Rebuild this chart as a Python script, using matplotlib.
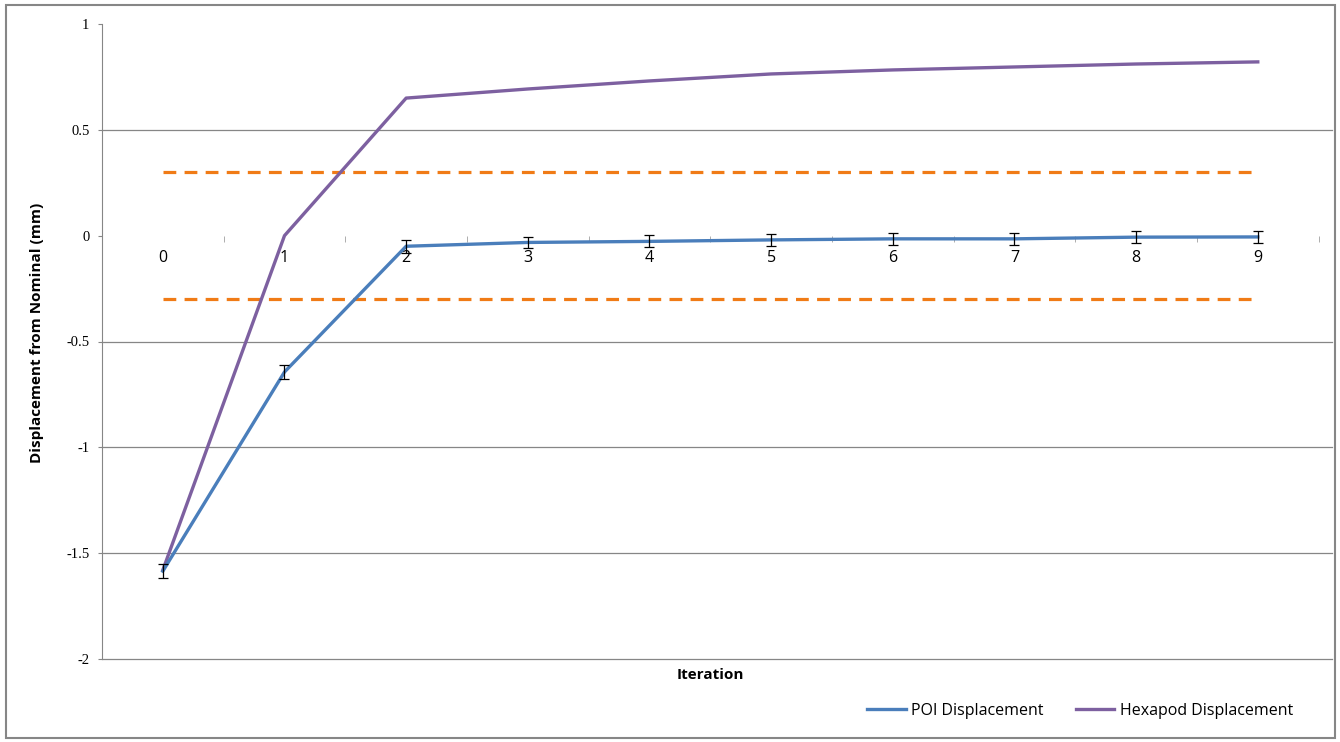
import matplotlib.pyplot as plt
from matplotlib.patches import Rectangle

# Data
iterations = [0, 1, 2, 3, 4, 5, 6, 7, 8, 9]
poi_disp = [-1.585, -0.644, -0.05, -0.032, -0.027, -0.02, -0.015, -0.015, -0.007, -0.006]
poi_err = [0.032, 0.035, 0.03, 0.028, 0.028, 0.028, 0.028, 0.028, 0.028, 0.028]
hexapod_disp = [-1.58, 0.0, 0.65, 0.693, 0.731, 0.764, 0.783, 0.797, 0.811, 0.821]
tolerance = 0.3
y_ticks = [1, 0.5, 0, -0.5, -1, -1.5, -2]
grid_values = [0.5, -0.5, -1, -1.5, -2]

BLUE = '#4a7ebb'
PURPLE = '#7d60a0'
ORANGE = '#f07b16'
GRAY = '#868686'

fig = plt.figure(figsize=(13.4, 7.42), dpi=100)
ax = fig.add_axes([102 / 1340, 1 - 659 / 742, (1332 - 102) / 1340, (659 - 24) / 742])

# chart border
fig.patches.append(Rectangle((6 / 1340, 4 / 742), 1329 / 1340, 733 / 742,
                             transform=fig.transFigure, fill=False,
                             edgecolor=GRAY, linewidth=1.5))

for g in grid_values:
    ax.axhline(g, color=GRAY, linewidth=0.9, zorder=0, clip_on=False)

# tolerance band
ax.plot([iterations[0], iterations[-1]], [tolerance, tolerance], color=ORANGE,
        linewidth=2.3, dashes=(4, 2.6), zorder=1)
ax.plot([iterations[0], iterations[-1]], [-tolerance, -tolerance], color=ORANGE,
        linewidth=2.3, dashes=(4, 2.6), zorder=1)

ax.plot(iterations, hexapod_disp, color=PURPLE, linewidth=2.4, label='Hexapod Displacement', zorder=3)
ax.plot(iterations, poi_disp, color=BLUE, linewidth=2.4, label='POI Displacement', zorder=3)
ax.errorbar(iterations, poi_disp, yerr=poi_err, fmt='none', ecolor='black',
            elinewidth=0.9, capsize=3.6, capthick=0.9, zorder=4)

ax.set_xlim(-0.5, 9.61)
ax.set_ylim(-2, 1)

for s in ['top', 'right']:
    ax.spines[s].set_visible(False)
ax.spines['left'].set_color(GRAY)
ax.spines['bottom'].set_position(('data', 0))
ax.spines['bottom'].set_color('none')

ax.set_yticks(y_ticks)
ax.set_yticklabels([f'{v:g}' for v in y_ticks], family='Liberation Serif', fontsize=10.5)
ax.tick_params(axis='y', length=3, color=GRAY, pad=6)

ax.set_xticks(iterations)
ax.set_xticklabels([str(i) for i in iterations], family='Open Sans', fontsize=11.5)
ax.set_xticks([i - 0.5 for i in iterations] + [9.5], minor=True)
ax.tick_params(axis='x', which='major', length=0, pad=10)
ax.tick_params(axis='x', which='minor', length=4, color='#a0a0a0', direction='out')

fig.text(37 / 1340, 1 - 333 / 742, 'Displacement from Nominal (mm)', rotation=90,
         ha='center', va='center', fontsize=11, fontweight='bold', family='Open Sans')
fig.text(710 / 1340, 1 - 675 / 742, 'Iteration', ha='center', va='center',
         fontsize=11, fontweight='bold', family='Open Sans')

handles, labels = ax.get_legend_handles_labels()
fig.legend(handles[::-1], labels[::-1], ncol=2, frameon=False,
           loc='center left', bbox_to_anchor=(853 / 1340, 1 - 711 / 742),
           prop={'family': 'Open Sans', 'size': 11.5},
           handlelength=2.4, handletextpad=0.35, columnspacing=2.0)

fig.savefig('out.png', dpi=100)
